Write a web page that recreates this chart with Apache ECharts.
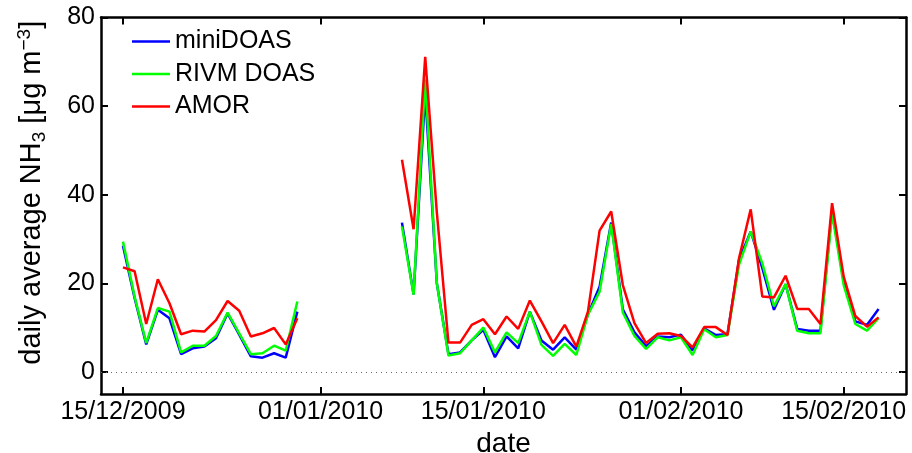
<!DOCTYPE html>
<html>
<head>
<meta charset="utf-8">
<script src="https://cdn.jsdelivr.net/npm/echarts@6/dist/echarts.min.js"></script>
<style>
html, body { margin: 0; padding: 0; background: #fff; }
#chart { width: 912px; height: 453px; }
</style>
</head>
<body>
<div id="chart"></div>
<script>
// daily dates (two measurement periods)
const dates = [
  '2009-12-15','2009-12-16','2009-12-17','2009-12-18','2009-12-19','2009-12-20','2009-12-21','2009-12-22',
  '2009-12-23','2009-12-24','2009-12-25','2009-12-26','2009-12-27','2009-12-28','2009-12-29','2009-12-30',
  '2010-01-08','2010-01-09','2010-01-10','2010-01-11','2010-01-12','2010-01-13','2010-01-14','2010-01-15',
  '2010-01-16','2010-01-17','2010-01-18','2010-01-19','2010-01-20','2010-01-21','2010-01-22','2010-01-23',
  '2010-01-24','2010-01-25','2010-01-26','2010-01-27','2010-01-28','2010-01-29','2010-01-30','2010-01-31',
  '2010-02-01','2010-02-02','2010-02-03','2010-02-04','2010-02-05','2010-02-06','2010-02-07','2010-02-08',
  '2010-02-09','2010-02-10','2010-02-11','2010-02-12','2010-02-13','2010-02-14','2010-02-15','2010-02-16',
  '2010-02-17','2010-02-18'
]

const miniDOAS = [
  28.5, 16.7, 6.2, 14.0, 12.1, 4.0, 5.3, 5.7, 7.6, 13.2, 8.4, 3.5, 3.2, 4.2, 3.2, 13.6,
  33.7, 17.5, 63.0, 20.0, 4.0, 4.4, 7.1, 9.5, 3.3, 8.0, 5.3, 13.6, 7.1, 5.0, 7.8, 5.0,
  13.0, 19.2, 33.7, 14.1, 8.9, 5.8, 8.0, 7.8, 8.4, 4.8, 9.8, 8.3, 8.5, 25.3, 31.7, 23.4,
  14.0, 19.8, 9.7, 9.3, 9.3, 36.5, 20.5, 11.4, 10.6, 14.2
]

const rivmDOAS = [
  29.4, 17.0, 6.5, 14.4, 13.6, 4.4, 5.9, 5.9, 8.1, 13.4, 8.7, 4.0, 4.2, 5.9, 4.8, 15.9,
  32.8, 17.4, 66.0, 20.0, 3.7, 4.2, 7.1, 10.0, 4.4, 8.9, 6.5, 13.6, 6.1, 3.6, 6.3, 3.8,
  12.9, 18.1, 33.4, 13.4, 8.1, 5.2, 7.8, 7.1, 7.8, 3.8, 9.6, 7.8, 8.3, 24.2, 31.7, 24.5,
  14.8, 19.8, 9.3, 8.7, 8.7, 35.8, 19.6, 10.8, 9.3, 12.1
]

const amor = [
  23.6, 22.7, 10.8, 20.9, 15.5, 8.5, 9.3, 9.1, 11.7, 16.0, 13.8, 8.0, 8.7, 9.9, 6.2, 12.1,
  47.9, 32.2, 71.1, 36.0, 6.6, 6.6, 10.6, 11.9, 8.5, 12.5, 9.7, 16.1, 11.4, 6.5, 10.6, 5.7,
  13.6, 31.9, 36.2, 19.6, 11.0, 6.5, 8.6, 8.7, 8.1, 5.5, 10.1, 10.1, 8.3, 25.7, 36.7, 17.0,
  16.8, 21.7, 14.2, 14.2, 10.8, 38.1, 21.5, 12.6, 10.2, 12.3
]

const tickDates = ['2009-12-15', '2010-01-01', '2010-01-15', '2010-02-01', '2010-02-15']
const yTicks = [0, 20, 40, 60, 80]

const DAY = 24 * 3600 * 1000
const FONT = 'Liberation Sans, Arial, Helvetica, sans-serif'

function toTime(s) {
  const p = s.split('-')
  return new Date(+p[0], +p[1] - 1, +p[2]).getTime()
}

function pad(n) {
  return n < 10 ? '0' + n : '' + n
}

// break the line where there is no data
function buildData(vals) {
  const out = []
  for (let i = 0; i < dates.length; i++) {
    const t = toTime(dates[i])
    if (i > 0 && t - toTime(dates[i - 1]) > 1.5 * DAY) out.push([t - DAY, null])
    out.push([t, vals[i]])
  }
  return out
}

const tickTimes = tickDates.map(toTime)
const t0 = toTime('2009-12-15')
const xMin = t0 - 1.89 * DAY
const xMax = t0 + 67.36 * DAY

const axisLine = { show: true, onZero: false, lineStyle: { color: '#000', width: 2.5 } }

const chart = echarts.init(document.getElementById('chart'))

const option = {
  animation: false,
  textStyle: { fontFamily: FONT },
  grid: { left: 101, right: 6, top: 17.5, bottom: 59, containLabel: false, outerBoundsMode: 'none' },
  legend: {
    orient: 'vertical',
    left: 132,
    top: 29,
    padding: 0,
    itemGap: 7.5,
    itemWidth: 38,
    itemHeight: 2.5,
    icon: 'rect',
    textStyle: { fontSize: 25, color: '#000', fontFamily: FONT },
    data: ['miniDOAS', 'RIVM DOAS', 'AMOR']
  },
  xAxis: [
    {
      type: 'value',
      min: xMin,
      max: xMax,
      position: 'bottom',
      axisLine: axisLine,
      axisTick: { show: true, inside: true, length: 7, customValues: tickTimes, lineStyle: { color: '#000', width: 2 } },
      axisLabel: {
        customValues: tickTimes,
        fontSize: 25,
        color: '#000',
        margin: 6,
        fontFamily: FONT,
        formatter: function (v) {
          const d = new Date(v)
          return pad(d.getDate()) + '/' + pad(d.getMonth() + 1) + '/' + d.getFullYear()
        }
      },
      splitLine: { show: false },
      name: 'date',
      nameLocation: 'middle',
      nameGap: 33,
      nameTextStyle: { fontSize: 28, color: '#000', fontFamily: FONT }
    },
    {
      type: 'value',
      min: xMin,
      max: xMax,
      position: 'top',
      axisLine: axisLine,
      axisTick: { show: true, inside: true, length: 7, customValues: tickTimes, lineStyle: { color: '#000', width: 2 } },
      axisLabel: { show: false },
      splitLine: { show: false }
    }
  ],
  yAxis: [
    {
      type: 'value',
      min: -5,
      max: 80,
      position: 'left',
      axisLine: axisLine,
      axisTick: { show: true, inside: true, length: 7, customValues: yTicks, lineStyle: { color: '#000', width: 2 } },
      axisLabel: { customValues: yTicks, fontSize: 25, color: '#000', margin: 6, fontFamily: FONT },
      splitLine: { show: false },
      name: '{a|daily average NH}{sub|3}{a| [μg m}{sup|−3}{a|]}',
      nameLocation: 'middle',
      nameGap: 52,
      nameTextStyle: {
        color: '#000',
        fontFamily: FONT,
        padding: [0, 0, 0, 26],
        rich: {
          a: { fontSize: 29, lineHeight: 34, color: '#000', fontFamily: FONT },
          sub: { fontSize: 19, lineHeight: 18, verticalAlign: 'bottom', color: '#000', fontFamily: FONT },
          sup: { fontSize: 19, lineHeight: 18, verticalAlign: 'top', color: '#000', fontFamily: FONT }
        }
      }
    },
    {
      type: 'value',
      min: -5,
      max: 80,
      position: 'right',
      axisLine: axisLine,
      axisTick: { show: true, inside: true, length: 7, customValues: yTicks, lineStyle: { color: '#000', width: 2 } },
      axisLabel: { show: false },
      splitLine: { show: false }
    }
  ],
  series: [
    {
      name: 'miniDOAS',
      type: 'line',
      data: buildData(miniDOAS),
      showSymbol: false,
      symbol: 'none',
      connectNulls: false,
      color: '#0000ff',
      lineStyle: { width: 2.5, color: '#0000ff' },
      markLine: {
        silent: true,
        symbol: 'none',
        label: { show: false },
        lineStyle: { color: '#666', type: [1, 4], width: 1 },
        data: [{ yAxis: 0 }]
      }
    },
    {
      name: 'RIVM DOAS',
      type: 'line',
      data: buildData(rivmDOAS),
      showSymbol: false,
      symbol: 'none',
      connectNulls: false,
      color: '#00ff00',
      lineStyle: { width: 2.5, color: '#00ff00' }
    },
    {
      name: 'AMOR',
      type: 'line',
      data: buildData(amor),
      showSymbol: false,
      symbol: 'none',
      connectNulls: false,
      color: '#ff0000',
      lineStyle: { width: 2.5, color: '#ff0000' }
    }
  ]
}

chart.setOption(option)
</script>
</body>
</html>
